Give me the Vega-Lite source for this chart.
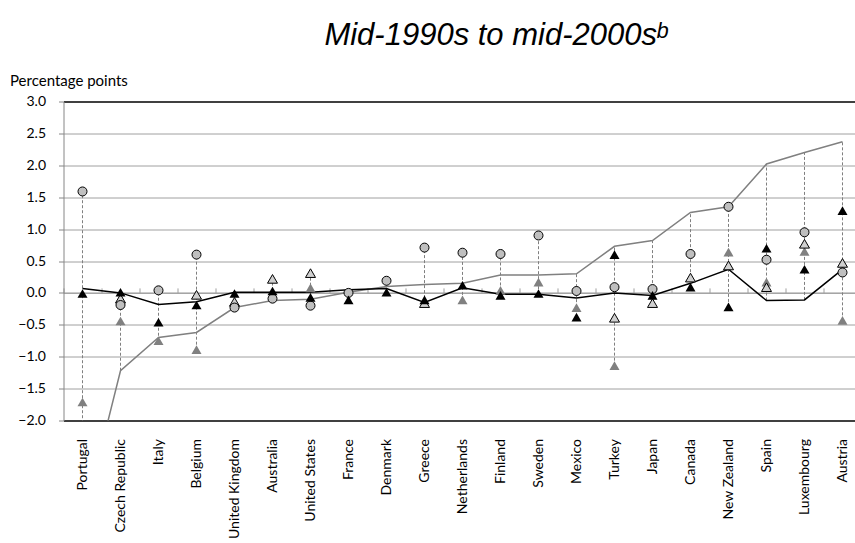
{
  "$schema": "https://vega.github.io/schema/vega-lite/v6.json",
  "autosize": "none",
  "padding": {"left": 63.5, "top": 101.5, "right": 0, "bottom": 123},
  "width": 798,
  "height": 319,
  "config": {
    "view": {"stroke": null},
    "font": "Lato",
    "axisY": {
      "grid": true,
      "gridColor": {"condition": {"test": "datum.value == 3 || datum.value == -2", "value": "black"}, "value": "#a0a0a0"},
      "gridWidth": {"condition": {"test": "datum.value == 3 || datum.value == -2", "value": 1.5}, "value": 1},
      "domainColor": "#868686",
      "tickColor": "#868686",
      "tickSize": 5,
      "labelPadding": 13,
      "labelFont": "Lato",
      "labelFontSize": 14,
      "labelColor": "black",
      "labelOverlap": false,
      "titleAngle": 0,
      "titleAlign": "left",
      "titleBaseline": "middle",
      "titleX": -54,
      "titleY": -21,
      "titleFont": "Lato",
      "titleFontSize": 15,
      "titleFontWeight": "normal",
      "titleColor": "black"
    }
  },
  "title": {
    "text": "Mid-1990s to mid-2000sᵇ",
    "font": "Liberation Sans",
    "fontStyle": "italic",
    "fontWeight": "normal",
    "fontSize": 31,
    "color": "black",
    "anchor": "middle",
    "frame": "group",
    "dx": 33,
    "offset": 22
  },
  "data": {
    "values": [
      {"country": "Portugal", "circle": 1.59, "blackTri": -0.01, "whiteTri": null, "grayTri": -1.71, "blackLine": 0.07, "grayLine": -3.61},
      {"country": "Czech Republic", "circle": -0.19, "blackTri": 0.01, "whiteTri": -0.09, "grayTri": -0.44, "blackLine": 0.0, "grayLine": -1.22},
      {"country": "Italy", "circle": 0.04, "blackTri": -0.46, "whiteTri": null, "grayTri": -0.75, "blackLine": -0.18, "grayLine": -0.7},
      {"country": "Belgium", "circle": 0.6, "blackTri": -0.19, "whiteTri": -0.03, "grayTri": -0.89, "blackLine": -0.14, "grayLine": -0.62},
      {"country": "United Kingdom", "circle": -0.23, "blackTri": -0.01, "whiteTri": -0.14, "grayTri": null, "blackLine": 0.01, "grayLine": -0.23},
      {"country": "Australia", "circle": -0.09, "blackTri": 0.03, "whiteTri": 0.22, "grayTri": null, "blackLine": 0.01, "grayLine": -0.12},
      {"country": "United States", "circle": -0.2, "blackTri": -0.07, "whiteTri": 0.31, "grayTri": 0.08, "blackLine": 0.01, "grayLine": -0.1},
      {"country": "France", "circle": 0.0, "blackTri": -0.11, "whiteTri": null, "grayTri": null, "blackLine": 0.05, "grayLine": 0.01},
      {"country": "Denmark", "circle": 0.19, "blackTri": 0.01, "whiteTri": null, "grayTri": null, "blackLine": 0.07, "grayLine": 0.1},
      {"country": "Greece", "circle": 0.71, "blackTri": -0.11, "whiteTri": -0.16, "grayTri": null, "blackLine": -0.15, "grayLine": 0.13},
      {"country": "Netherlands", "circle": 0.63, "blackTri": 0.12, "whiteTri": null, "grayTri": -0.11, "blackLine": 0.08, "grayLine": 0.15},
      {"country": "Finland", "circle": 0.61, "blackTri": -0.04, "whiteTri": null, "grayTri": 0.04, "blackLine": -0.02, "grayLine": 0.28},
      {"country": "Sweden", "circle": 0.9, "blackTri": -0.01, "whiteTri": null, "grayTri": 0.17, "blackLine": -0.02, "grayLine": 0.28},
      {"country": "Mexico", "circle": 0.03, "blackTri": -0.38, "whiteTri": null, "grayTri": -0.23, "blackLine": -0.08, "grayLine": 0.3},
      {"country": "Turkey", "circle": 0.09, "blackTri": 0.6, "whiteTri": -0.39, "grayTri": -1.14, "blackLine": 0.0, "grayLine": 0.73},
      {"country": "Japan", "circle": 0.06, "blackTri": -0.04, "whiteTri": -0.16, "grayTri": null, "blackLine": -0.04, "grayLine": 0.82},
      {"country": "Canada", "circle": 0.61, "blackTri": 0.09, "whiteTri": 0.24, "grayTri": null, "blackLine": 0.15, "grayLine": 1.26},
      {"country": "New Zealand", "circle": 1.35, "blackTri": -0.22, "whiteTri": 0.43, "grayTri": 0.64, "blackLine": 0.37, "grayLine": 1.35},
      {"country": "Spain", "circle": 0.52, "blackTri": 0.7, "whiteTri": 0.09, "grayTri": 0.17, "blackLine": -0.12, "grayLine": 2.02},
      {"country": "Luxembourg", "circle": 0.95, "blackTri": 0.37, "whiteTri": 0.77, "grayTri": 0.65, "blackLine": -0.11, "grayLine": 2.2},
      {"country": "Austria", "circle": 0.32, "blackTri": 1.29, "whiteTri": 0.47, "grayTri": -0.43, "blackLine": 0.37, "grayLine": 2.37}
    ]
  },
  "encoding": {
    "x": {
      "field": "country",
      "type": "nominal",
      "scale": {
        "type": "band",
        "paddingInner": 0,
        "paddingOuter": 0,
        "domain": ["Portugal", "Czech Republic", "Italy", "Belgium", "United Kingdom", "Australia", "United States", "France", "Denmark", "Greece", "Netherlands", "Finland", "Sweden", "Mexico", "Turkey", "Japan", "Canada", "New Zealand", "Spain", "Luxembourg", "Austria"]
      }
    }
  },
  "layer": [
    {
      "transform": [
        {"fold": ["circle", "blackTri", "whiteTri", "grayTri", "blackLine", "grayLine"], "as": ["series", "v"]},
        {"filter": "isValid(datum.v)"},
        {"aggregate": [{"op": "min", "field": "v", "as": "lo"}, {"op": "max", "field": "v", "as": "hi"}], "groupby": ["country"]}
      ],
      "mark": {"type": "rule", "color": "#7f7f7f", "strokeWidth": 1, "strokeDash": [3, 2], "clip": true},
      "encoding": {
        "x": {
          "field": "country",
          "type": "nominal",
          "axis": {
            "orient": "bottom",
            "title": null,
            "ticks": false,
            "domain": false,
            "grid": false,
            "labelAngle": -90,
            "labelPadding": 18,
            "labelFont": "Lato",
            "labelFontSize": 14,
            "labelColor": "black",
            "labelOverlap": false
          }
        },
        "y": {
          "field": "lo",
          "type": "quantitative",
          "scale": {"domain": [-2, 3], "nice": false, "zero": false},
          "axis": {"values": [-2, -1.5, -1, -0.5, 0, 0.5, 1, 1.5, 2, 2.5, 3], "format": ".1f", "title": "Percentage points"}
        },
        "y2": {"field": "hi"}
      }
    },
    {
      "mark": {"type": "line", "color": "#808080", "strokeWidth": 1.5, "clip": true},
      "encoding": {
        "x": {"field": "country", "type": "nominal", "axis": null},
        "y": {"field": "grayLine", "type": "quantitative", "axis": {"values": [-2, -1.5, -1, -0.5, 0, 0.5, 1, 1.5, 2, 2.5, 3], "format": ".1f", "title": "Percentage points"}}
      }
    },
    {
      "mark": {"type": "line", "color": "black", "strokeWidth": 1.5, "clip": true},
      "encoding": {
        "x": {
          "field": "country",
          "type": "nominal",
          "axis": {
            "orient": "top",
            "offset": -191.4,
            "labels": false,
            "title": null,
            "grid": false,
            "domainColor": "#a0a0a0",
            "tickColor": "#a0a0a0",
            "tickSize": 5,
            "bandPosition": 0
          }
        },
        "y": {"field": "blackLine", "type": "quantitative", "axis": {"values": [-2, -1.5, -1, -0.5, 0, 0.5, 1, 1.5, 2, 2.5, 3], "format": ".1f", "title": "Percentage points"}}
      }
    },
    {
      "mark": {"type": "point", "shape": "triangle-up", "filled": true, "size": 100, "color": "#808080", "opacity": 1, "clip": true},
      "encoding": {
        "x": {"field": "country", "type": "nominal", "axis": null},
        "y": {"field": "grayTri", "type": "quantitative", "axis": {"values": [-2, -1.5, -1, -0.5, 0, 0.5, 1, 1.5, 2, 2.5, 3], "format": ".1f", "title": "Percentage points"}}
      }
    },
    {
      "mark": {"type": "point", "shape": "triangle-up", "filled": true, "size": 100, "fill": "#d0d0d0", "stroke": "black", "strokeWidth": 1, "opacity": 1, "clip": true},
      "encoding": {
        "x": {"field": "country", "type": "nominal", "axis": null},
        "y": {"field": "whiteTri", "type": "quantitative", "axis": {"values": [-2, -1.5, -1, -0.5, 0, 0.5, 1, 1.5, 2, 2.5, 3], "format": ".1f", "title": "Percentage points"}}
      }
    },
    {
      "mark": {"type": "point", "shape": "circle", "filled": true, "size": 81, "fill": "#bfbfbf", "stroke": "black", "strokeWidth": 1, "opacity": 1, "clip": true},
      "encoding": {
        "x": {"field": "country", "type": "nominal", "axis": null},
        "y": {"field": "circle", "type": "quantitative", "axis": {"values": [-2, -1.5, -1, -0.5, 0, 0.5, 1, 1.5, 2, 2.5, 3], "format": ".1f", "title": "Percentage points"}}
      }
    },
    {
      "mark": {"type": "point", "shape": "triangle-up", "filled": true, "size": 100, "color": "black", "opacity": 1, "clip": true},
      "encoding": {
        "x": {"field": "country", "type": "nominal", "axis": null},
        "y": {"field": "blackTri", "type": "quantitative", "axis": {"values": [-2, -1.5, -1, -0.5, 0, 0.5, 1, 1.5, 2, 2.5, 3], "format": ".1f", "title": "Percentage points"}}
      }
    }
  ],
  "resolve": {"axis": {"x": "independent"}}
}
